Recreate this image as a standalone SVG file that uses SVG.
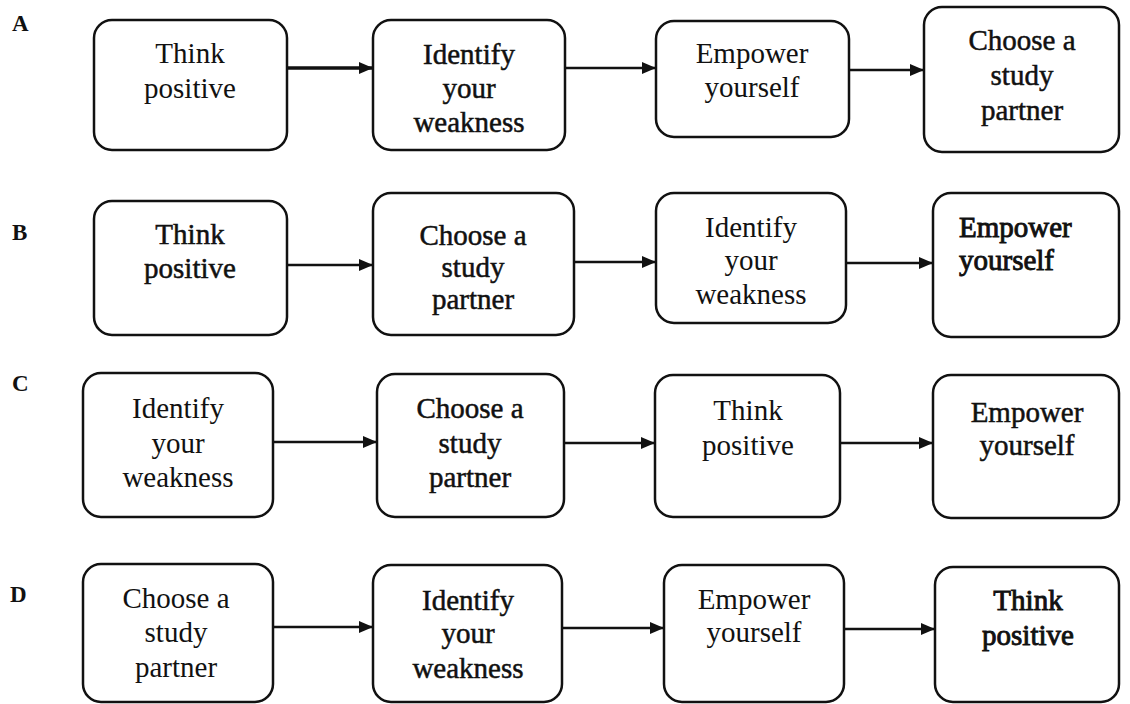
<svg xmlns="http://www.w3.org/2000/svg" width="1130" height="704" viewBox="0 0 1130 704">
<style>
.box{fill:#fff;stroke:#111;stroke-width:2.5}
.t{font-family:"Liberation Serif","Times New Roman",serif;font-size:29px;fill:#111;text-anchor:middle}
.l{text-anchor:start}
.med{stroke:#111;stroke-width:0.5}
.bld{stroke:#111;stroke-width:0.9}
.lab{font-family:"Liberation Serif","Times New Roman",serif;font-size:23px;font-weight:bold;fill:#111}
.c{stroke:#111;stroke-width:2.6;fill:none}
</style>
<defs>
<marker id="ah" viewBox="0 0 14 12" refX="14" refY="6" markerWidth="14" markerHeight="12" markerUnits="userSpaceOnUse" orient="auto">
<path d="M0,0 L14,6 L0,12 Z" fill="#111"/>
</marker>
</defs>
<rect width="1130" height="704" fill="#fff"/>
<g id="labels">
<text class="lab" x="12" y="31">A</text>
<text class="lab" x="12" y="240">B</text>
<text class="lab" x="12" y="391">C</text>
<text class="lab" x="10" y="602">D</text>
</g>
<g id="connectors">
<line class="c" x1="287" y1="68" x2="373" y2="68" style="stroke-width:3.5" marker-end="url(#ah)"/>
<line class="c" x1="565" y1="68" x2="656" y2="68" marker-end="url(#ah)"/>
<line class="c" x1="849" y1="70" x2="924" y2="70" marker-end="url(#ah)"/>
<line class="c" x1="287" y1="265" x2="373" y2="265" marker-end="url(#ah)"/>
<line class="c" x1="574" y1="262" x2="656" y2="262" marker-end="url(#ah)"/>
<line class="c" x1="846" y1="263" x2="933" y2="263" marker-end="url(#ah)"/>
<line class="c" x1="273" y1="442" x2="377" y2="442" marker-end="url(#ah)"/>
<line class="c" x1="564" y1="443" x2="655" y2="443" marker-end="url(#ah)"/>
<line class="c" x1="840" y1="443" x2="933" y2="443" marker-end="url(#ah)"/>
<line class="c" x1="273" y1="627" x2="373" y2="627" marker-end="url(#ah)"/>
<line class="c" x1="562" y1="628" x2="664" y2="628" marker-end="url(#ah)"/>
<line class="c" x1="844" y1="629" x2="935" y2="629" marker-end="url(#ah)"/>
</g>
<g id="A1"><rect class="box" x="94" y="20" width="193" height="130" rx="18"/>
<text class="t" x="190" y="63">Think</text><text class="t" x="190" y="98">positive</text></g>
<g id="A2"><rect class="box" x="373" y="20" width="192" height="130" rx="18"/>
<text class="t med" x="469" y="64">Identify</text><text class="t med" x="469" y="98">your</text><text class="t med" x="469" y="132">weakness</text></g>
<g id="A3"><rect class="box" x="656" y="21" width="193" height="116" rx="18"/>
<text class="t" x="752" y="63">Empower</text><text class="t" x="752" y="97">yourself</text></g>
<g id="A4"><rect class="box" x="924" y="7" width="195" height="145" rx="18"/>
<text class="t med" x="1022" y="50">Choose a</text><text class="t med" x="1022" y="85">study</text><text class="t med" x="1022" y="120">partner</text></g>
<g id="B1"><rect class="box" x="94" y="201" width="193" height="134" rx="18"/>
<text class="t med" x="190" y="244">Think</text><text class="t med" x="190" y="278">positive</text></g>
<g id="B2"><rect class="box" x="373" y="193" width="201" height="142" rx="18"/>
<text class="t med" x="473" y="245">Choose a</text><text class="t med" x="473" y="277">study</text><text class="t med" x="473" y="309">partner</text></g>
<g id="B3"><rect class="box" x="656" y="193" width="190" height="130" rx="18"/>
<text class="t" x="751" y="237">Identify</text><text class="t" x="751" y="270">your</text><text class="t" x="751" y="304">weakness</text></g>
<g id="B4"><rect class="box" x="933" y="193" width="186" height="144" rx="18"/>
<text class="t l bld" x="959" y="237">Empower</text><text class="t l bld" x="959" y="270">yourself</text></g>
<g id="C1"><rect class="box" x="83" y="373" width="190" height="144" rx="18"/>
<text class="t" x="178" y="418">Identify</text><text class="t" x="178" y="453">your</text><text class="t" x="178" y="487">weakness</text></g>
<g id="C2"><rect class="box" x="377" y="374" width="187" height="143" rx="18"/>
<text class="t med" x="470" y="418">Choose a</text><text class="t med" x="470" y="453">study</text><text class="t med" x="470" y="487">partner</text></g>
<g id="C3"><rect class="box" x="655" y="375" width="185" height="142" rx="18"/>
<text class="t" x="748" y="420">Think</text><text class="t" x="748" y="455">positive</text></g>
<g id="C4"><rect class="box" x="933" y="375" width="186" height="143" rx="18"/>
<text class="t med" x="1027" y="422">Empower</text><text class="t med" x="1027" y="455">yourself</text></g>
<g id="D1"><rect class="box" x="83" y="564" width="190" height="138" rx="18"/>
<text class="t" x="176" y="608">Choose a</text><text class="t" x="176" y="642">study</text><text class="t" x="176" y="677">partner</text></g>
<g id="D2"><rect class="box" x="373" y="565" width="189" height="137" rx="18"/>
<text class="t med" x="468" y="610">Identify</text><text class="t med" x="468" y="643">your</text><text class="t med" x="468" y="678">weakness</text></g>
<g id="D3"><rect class="box" x="664" y="565" width="180" height="137" rx="18"/>
<text class="t" x="754" y="609">Empower</text><text class="t" x="754" y="642">yourself</text></g>
<g id="D4"><rect class="box" x="935" y="567" width="184" height="135" rx="18"/>
<text class="t bld" x="1028" y="610">Think</text><text class="t bld" x="1028" y="645">positive</text></g>
</svg>
